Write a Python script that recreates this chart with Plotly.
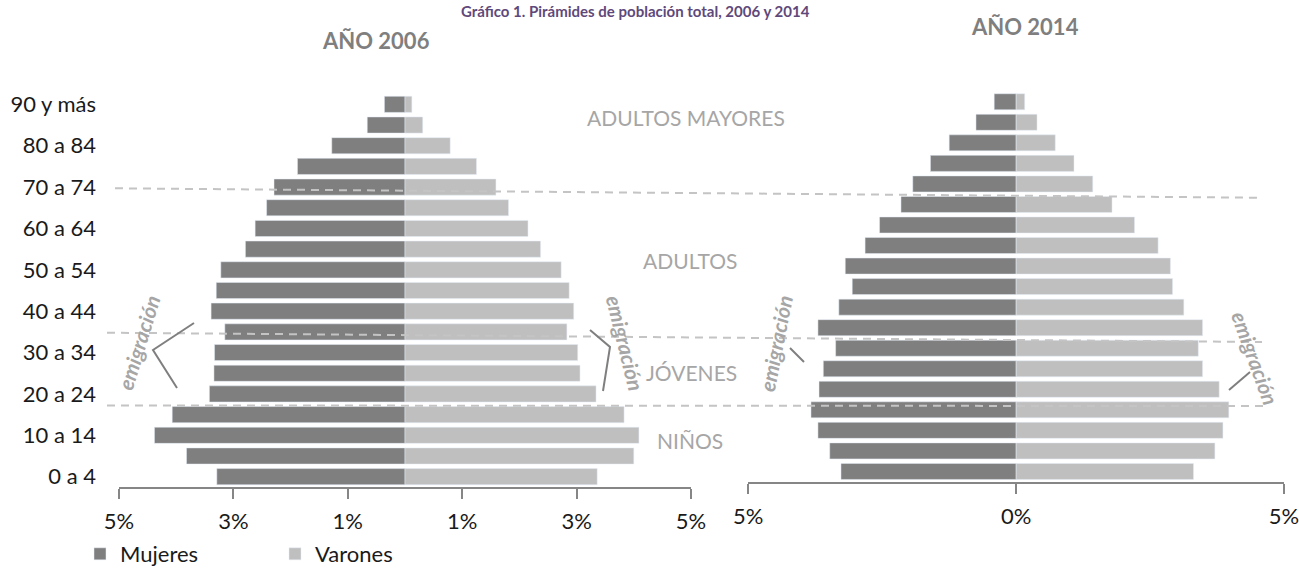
import plotly.graph_objects as go

W, H = 1299, 572

# ---------------- data ----------------
ages = ["0 a 4", "5 a 9", "10 a 14", "15 a 19", "20 a 24", "25 a 29", "30 a 34",
        "35 a 39", "40 a 44", "45 a 49", "50 a 54", "55 a 59", "60 a 64", "65 a 69",
        "70 a 74", "75 a 79", "80 a 84", "85 a 89", "90 y más"]
age_tick_labels = ages[::2]

mujeres_2006 = [3.29, 3.82, 4.38, 4.07, 3.42, 3.34, 3.33, 3.15, 3.39, 3.30,
                3.22, 2.79, 2.62, 2.42, 2.29, 1.88, 1.28, 0.66, 0.36]
varones_2006 = [3.36, 4.00, 4.09, 3.83, 3.34, 3.06, 3.02, 2.83, 2.95, 2.87,
                2.73, 2.37, 2.15, 1.81, 1.59, 1.25, 0.79, 0.31, 0.12]
mujeres_2014 = [3.27, 3.48, 3.70, 3.83, 3.68, 3.60, 3.37, 3.70, 3.31, 3.06,
                3.19, 2.82, 2.55, 2.15, 1.93, 1.60, 1.25, 0.75, 0.41]
varones_2014 = [3.31, 3.71, 3.86, 3.97, 3.79, 3.48, 3.40, 3.48, 3.13, 2.92,
                2.88, 2.65, 2.21, 1.79, 1.43, 1.08, 0.73, 0.39, 0.16]

ticks_2006 = [-5, -3, -1, 1, 3, 5]
ticktext_2006 = ["5%", "3%", "1%", "1%", "3%", "5%"]
ticks_2014 = [-5, 0, 5]
ticktext_2014 = ["5%", "0%", "5%"]

series_names = ["Mujeres", "Varones"]
panel_titles = ["AÑO 2006", "AÑO 2014"]
group_labels = ["ADULTOS MAYORES", "ADULTOS", "JÓVENES", "NIÑOS"]
note_text = "emigración"
chart_title = "Gráfico 1. Pirámides de población total, 2006 y 2014"

# ---------------- style ----------------
C_MUJ = "#7f7f7f"
C_VAR = "#bfbfbf"
C_AXIS = "#868686"
C_NOTE = "#a6a6a6"
C_DASH = "#c4c4c4"
FONT = "Lato, 'Open Sans', sans-serif"


def fx(x):
    return x / W


def fy(y):
    return 1 - y / H


fig = go.Figure()
fig.add_trace(go.Bar(y=ages, x=[-v for v in mujeres_2006], orientation="h",
                     name=series_names[0], marker_color=C_MUJ, legendgroup="m",
                     xaxis="x", yaxis="y", customdata=mujeres_2006,
                     hovertemplate="%{y}: %{customdata}%<extra>Mujeres 2006</extra>"))
fig.add_trace(go.Bar(y=ages, x=varones_2006, orientation="h",
                     name=series_names[1], marker_color=C_VAR, legendgroup="v",
                     xaxis="x", yaxis="y",
                     hovertemplate="%{y}: %{x}%<extra>Varones 2006</extra>"))
fig.add_trace(go.Bar(y=ages, x=[-v for v in mujeres_2014], orientation="h",
                     name=series_names[0], marker_color=C_MUJ, legendgroup="m",
                     showlegend=False, xaxis="x2", yaxis="y2", customdata=mujeres_2014,
                     hovertemplate="%{y}: %{customdata}%<extra>Mujeres 2014</extra>"))
fig.add_trace(go.Bar(y=ages, x=varones_2014, orientation="h",
                     name=series_names[1], marker_color=C_VAR, legendgroup="v",
                     showlegend=False, xaxis="x2", yaxis="y2",
                     hovertemplate="%{y}: %{x}%<extra>Varones 2014</extra>"))

xcommon = dict(range=[-5, 5], showline=True, linecolor=C_AXIS, linewidth=2,
               ticks="outside", ticklen=10, tickwidth=2, tickcolor=C_AXIS,
               showgrid=False, zeroline=False, fixedrange=True, automargin=False,
               ticklabeloverflow="allow", ticklabelstandoff=4,
               tickfont=dict(size=22, color="#1a1a1a"))
ycommon = dict(type="category", categoryorder="array", categoryarray=ages,
               showgrid=False, zeroline=False, showline=False, ticks="",
               fixedrange=True, range=[-0.5, 18.5], automargin=False)

fig.update_layout(
    width=W, height=H,
    margin=dict(l=0, r=0, t=0, b=0, autoexpand=False),
    barmode="relative", bargap=0.22,
    plot_bgcolor="white", paper_bgcolor="white",
    font=dict(family=FONT, size=22, color="#1a1a1a"),
    xaxis=dict(domain=[fx(119), fx(691)], anchor="y",
               tickvals=ticks_2006, ticktext=ticktext_2006, **xcommon),
    yaxis=dict(domain=[fy(487), fy(94)], anchor="x",
               tickvals=age_tick_labels, ticklabelstandoff=22,
               tickfont=dict(size=22, color="#1a1a1a"), **ycommon),
    xaxis2=dict(domain=[fx(748.3), fx(1284)], anchor="y2",
                tickvals=ticks_2014, ticktext=ticktext_2014, **xcommon),
    yaxis2=dict(domain=[fy(481.7), fy(91.5)], anchor="x2",
                showticklabels=False, **ycommon),
    legend=dict(orientation="h", x=fx(80), y=fy(554), xanchor="left", yanchor="middle",
                font=dict(size=22, color="#1a1a1a"), itemwidth=30,
                entrywidth=150, entrywidthmode="pixels",
                bgcolor="rgba(0,0,0,0)"),
    showlegend=True,
)

annotations = []
# chart title (kept fully inside the top edge)
annotations.append(dict(text=f"<b>{chart_title}</b>", x=fx(635), y=1,
                        xref="paper", yref="paper", xanchor="center", yanchor="top",
                        showarrow=False, font=dict(size=15, color="#5f497a")))
# panel titles
annotations.append(dict(text=f"<b>{panel_titles[0]}</b>", x=fx(376), y=fy(41),
                        xref="paper", yref="paper", xanchor="center", yanchor="middle",
                        showarrow=False, font=dict(size=22, color="#7f7f7f")))
annotations.append(dict(text=f"<b>{panel_titles[1]}</b>", x=fx(1025), y=fy(27),
                        xref="paper", yref="paper", xanchor="center", yanchor="middle",
                        showarrow=False, font=dict(size=22, color="#7f7f7f")))
# group labels
for lbl, (gx, gy) in zip(group_labels, [(686, 117), (690, 260), (691, 372), (690, 440)]):
    annotations.append(dict(text=lbl, x=fx(gx), y=fy(gy), xref="paper", yref="paper",
                            xanchor="center", yanchor="middle",
                            showarrow=False, font=dict(size=21, color=C_NOTE)))
# emigración notes
for (ex, ey, ang) in [(138, 342, -73), (626, 343, 76), (775, 343, -79), (1256, 358, 70)]:
    annotations.append(dict(text=note_text, x=fx(ex), y=fy(ey), xref="paper", yref="paper",
                            xanchor="center", yanchor="middle",
                            showarrow=False, textangle=ang,
                            font=dict(size=21, color=C_NOTE, style="italic", weight="bold")))
fig.update_layout(annotations=annotations)

shapes = []
# dashed separators
for (x0, y0, x1, y1) in [(115, 188.3, 1258, 197.7), (107, 332.7, 1262, 342), (107, 405.5, 1265, 406)]:
    shapes.append(dict(type="line", xref="paper", yref="paper",
                       x0=fx(x0), y0=fy(y0), x1=fx(x1), y1=fy(y1),
                       line=dict(color=C_DASH, width=2, dash="8px,6px"), layer="above"))
# brackets
paths = [
    [(194, 323), (153, 350), (177, 388)],
    [(590, 330), (610, 347), (603, 391)],
    [(790, 348), (804, 362)],
    [(1250, 372), (1229, 390)],
]
for pts in paths:
    d = "M " + " L ".join(f"{fx(x):.5f},{fy(y):.5f}" for x, y in pts)
    shapes.append(dict(type="path", xref="paper", yref="paper", path=d,
                       line=dict(color="#7f7f7f", width=2), layer="above"))
fig.update_layout(shapes=shapes)

fig.write_html("out.html",
               config={"displayModeBar": False},
               post_script="document.body.style.margin='0';"
                           "document.body.style.overflow='hidden';")
